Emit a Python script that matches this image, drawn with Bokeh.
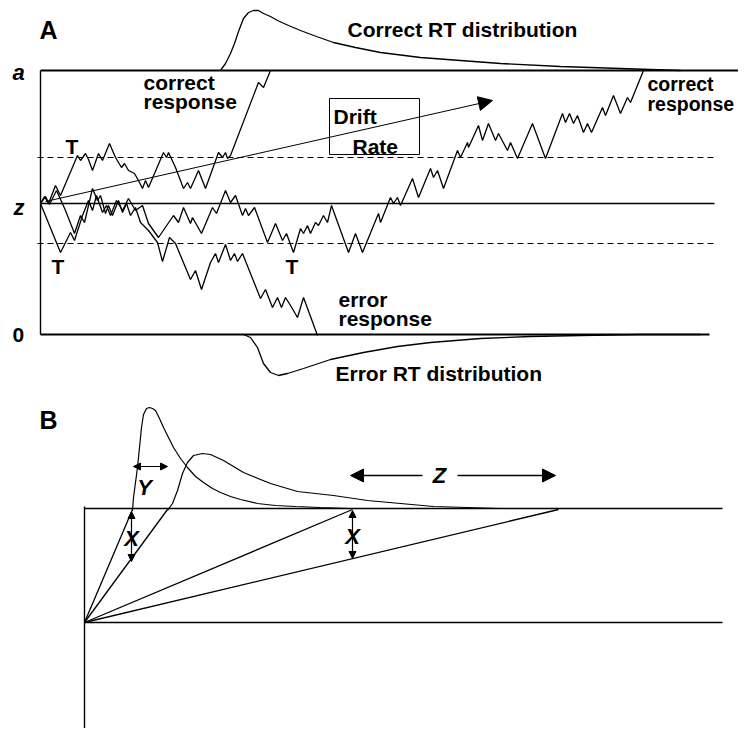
from bokeh.plotting import figure
from bokeh.models import Range1d, ColumnDataSource, Arrow, NormalHead
from bokeh.core.properties import value
from bokeh.embed import file_html
from bokeh.resources import INLINE

# ---------------- data (diagram units = picture pixels) ----------------
# Panel A: boundaries
bound_a_top = 70
bound_z = 203
bound_zero = 334
crit_upper = 157
crit_lower = 243
panel_a_left = 40

# Random walks (panel A)
walk_fast_x = [40, 44, 48, 55, 60, 77, 80, 85, 88, 92, 98, 102, 109, 115, 121, 124, 128, 134, 138, 142, 145, 148,
               163, 166, 168, 175, 183, 187, 190, 198, 205, 218, 222, 225, 227, 230, 258, 263, 270]
walk_fast_y = [203, 196, 203, 185, 195, 155, 160, 153, 159, 170, 153, 160, 143, 157, 167, 163, 170, 173, 180, 188, 180, 187,
               152, 157, 152, 167, 188, 182, 188, 170, 188, 152, 157, 152, 158, 155, 82, 87, 70]

walk_error_x = [40, 45, 49, 56, 65, 74, 80, 84, 92, 97, 100, 105, 108, 112, 118, 122, 126, 130, 135, 140, 148, 157,
                162, 169, 175, 190, 195, 201, 210, 215, 218, 225, 230, 234, 237, 242, 260, 265, 272, 277, 281, 285,
                290, 297, 303, 317]
walk_error_y = [203, 196, 204, 190, 210, 233, 215, 222, 188, 200, 195, 213, 205, 215, 200, 212, 203, 215, 207, 222, 230, 242,
                261, 237, 243, 279, 270, 289, 262, 253, 262, 244, 260, 253, 261, 253, 298, 289, 307, 297, 307, 297,
                305, 317, 297, 335]

walk_slow_x = [40, 60, 70, 74, 82, 88, 92, 96, 102, 106, 110, 116, 122, 128, 135, 142, 148, 158, 173, 178, 183, 190,
               192, 201, 212, 216, 225, 230, 235, 242, 245, 248, 254, 267, 275, 282, 286, 293, 300, 303, 307, 310,
               315, 318, 323, 327, 331, 348, 355, 362, 378, 380, 390, 393, 397, 400, 412, 418, 430, 433, 437, 443,
               457, 460, 467, 468, 478, 482, 488, 495, 498, 507, 510, 517, 532, 545, 562, 565, 569, 573, 577, 583,
               587, 591, 602, 605, 613, 620, 627, 630, 643]
walk_slow_y = [203, 252, 232, 240, 215, 200, 210, 195, 212, 205, 215, 200, 210, 198, 210, 205, 223, 237, 215, 222, 207, 223,
               217, 233, 207, 213, 190, 202, 195, 215, 208, 215, 207, 242, 223, 240, 233, 252, 228, 233, 225, 233,
               222, 225, 215, 222, 205, 252, 233, 252, 213, 222, 197, 203, 197, 205, 178, 197, 168, 177, 170, 188,
               150, 157, 142, 147, 125, 140, 123, 140, 133, 150, 142, 158, 123, 158, 113, 122, 113, 123, 115, 132,
               123, 132, 107, 115, 95, 113, 97, 102, 70]

# RT distributions (panel A)
correct_rt_x = [220, 225, 230, 234, 238, 243, 248, 253, 258, 263, 270, 277, 288, 300, 316, 333, 355, 380, 420, 460,
                500, 560, 620, 680]
correct_rt_y = [70, 63, 53, 43, 31, 18, 12, 10, 10, 13, 16, 20, 25, 30, 36, 42, 47, 52, 57, 60, 63, 66, 68, 70]
error_rt_x = [243, 250, 257, 263, 270, 278, 287, 303, 330, 363, 397, 430, 480, 530, 580, 640, 700]
error_rt_y = [334, 337, 347, 363, 372, 375, 373, 368, 359, 352, 346, 342, 338, 336, 335, 334, 334]

# Drift rate arrow and box
drift_start = (45, 201)
drift_end = (492, 100)
drift_box = (329, 98, 419, 154)  # left, top, right, bottom

# Panel B
b_left = 84
b_top = 508
b_mid = 622
b_bottom = 735
b_right = 722
fan_end_x = [132, 167, 352, 558]
fast_rt_x = [132, 133, 135, 137, 139, 141, 143, 146, 149, 152, 155, 159, 163, 168, 173, 180, 187, 195, 203, 212, 220,
             230, 240, 257, 275, 295, 320, 350, 380]
fast_rt_y = [510, 497, 482, 467, 447, 427, 414, 408, 407, 408, 410, 418, 427, 437, 447, 458, 467, 476, 482, 488, 492,
             496, 499, 503, 505, 506, 507, 508, 508]
slow_rt_x = [167, 172, 177, 182, 187, 193, 202, 210, 223, 243, 270, 297, 333, 367, 400, 433, 467, 500, 540]
slow_rt_y = [510, 503, 490, 473, 462, 455, 453, 454, 460, 472, 483, 491, 495, 500, 503, 506, 507, 508, 508]

# Labels
bold_text = ["Correct RT distribution", "correct", "response", "Drift", "Rate", "T", "T", "T",
             "error", "response", "Error RT distribution", "0"]
bold_x = [347, 143, 143, 333, 352, 65, 51, 285, 338, 338, 335, 12]
bold_y = [29, 82, 101, 116, 146, 146, 266, 266, 299, 318, 373, 334]
right_text = ["correct", "response"]
right_x = [647, 647]
right_y = [83, 103]
panel_text = ["A", "B"]
panel_x = [39, 39]
panel_y = [29, 419]
italic_text = ["a", "z", "X", "X", "Y", "Z"]
italic_x = [12, 13, 131, 352, 144, 439]
italic_y = [72, 207, 538, 536, 487, 475]
italic_align = ["left", "left", "center", "center", "center", "center"]

# ---------------- figure ----------------
W, H = 738, 728
p = figure(width=W, height=H, x_range=Range1d(0, W), y_range=Range1d(H, 0),
           output_backend="svg", toolbar_location=None, x_axis_type=None, y_axis_type=None,
           min_border=0, background_fill_color="white", border_fill_color="white")
p.grid.visible = False
p.outline_line_color = None

K = "black"
FONT = value("Liberation Sans")

# Panel A frame
p.line([panel_a_left, panel_a_left], [bound_a_top, bound_zero], line_color=K, line_width=1.4)
p.line([panel_a_left, 738], [bound_a_top, bound_a_top], line_color=K, line_width=1.8)
p.line([panel_a_left, 714], [bound_z, bound_z], line_color=K, line_width=1.4)
p.line([panel_a_left, 709], [bound_zero, bound_zero], line_color=K, line_width=1.8)
p.line([37, 714], [crit_upper, crit_upper], line_color=K, line_width=1.2, line_dash="6 4")
p.line([37, 714], [crit_lower, crit_lower], line_color=K, line_width=1.2, line_dash="6 4")

# walks
for wx, wy in [(walk_fast_x, walk_fast_y), (walk_error_x, walk_error_y), (walk_slow_x, walk_slow_y)]:
    p.line(wx, wy, line_color=K, line_width=1.3)

# distributions
p.line(correct_rt_x, correct_rt_y, line_color=K, line_width=1.3)
p.line(error_rt_x, error_rt_y, line_color=K, line_width=1.3)

# drift box and arrow
bl, bt, br, bb = drift_box
p.line([bl, br, br, bl, bl], [bt, bt, bb, bb, bt], line_color=K, line_width=1.0)
p.add_layout(Arrow(end=NormalHead(size=14, fill_color=K, line_color=K, line_width=1),
                   x_start=drift_start[0], y_start=drift_start[1], x_end=drift_end[0], y_end=drift_end[1],
                   line_color=K, line_width=1.0))

# Panel B frame
p.line([b_left, b_left], [b_top - 2, b_bottom], line_color=K, line_width=1.4)
p.line([b_left, b_right], [b_top, b_top], line_color=K, line_width=1.4)
p.line([b_left, b_right], [b_mid, b_mid], line_color=K, line_width=1.4)
for fx in fan_end_x:
    p.line([b_left, fx], [b_mid, b_top + 1], line_color=K, line_width=1.3)
p.line(fast_rt_x, fast_rt_y, line_color=K, line_width=1.2)
p.line(slow_rt_x, slow_rt_y, line_color=K, line_width=1.2)


def dbl_arrow(x0, y0, x1, y1, size, lw=1.2):
    p.add_layout(Arrow(start=NormalHead(size=size, fill_color=K, line_color=K, line_width=1),
                       end=NormalHead(size=size, fill_color=K, line_color=K, line_width=1),
                       x_start=x0, y_start=y0, x_end=x1, y_end=y1, line_color=K, line_width=lw))


dbl_arrow(131, 511, 131, 561, 7)
dbl_arrow(352, 510, 352, 558, 7)
dbl_arrow(133, 466, 167, 466, 7)
p.add_layout(Arrow(end=NormalHead(size=13, fill_color=K, line_color=K, line_width=1),
                   x_start=422, y_start=475, x_end=350, y_end=475, line_color=K, line_width=1.5))
p.add_layout(Arrow(end=NormalHead(size=13, fill_color=K, line_color=K, line_width=1),
                   x_start=457, y_start=475, x_end=555, y_end=475, line_color=K, line_width=1.5))

# Text
p.text(x=bold_x, y=bold_y, text=bold_text, text_font=FONT, text_font_style="bold",
       text_font_size="21px", text_baseline="middle", text_align="left", text_color=K)
p.text(x=right_x, y=right_y, text=right_text, text_font=FONT, text_font_style="bold",
       text_font_size="19.5px", text_baseline="middle", text_align="left", text_color=K)
p.text(x=panel_x, y=panel_y, text=panel_text, text_font=FONT, text_font_style="bold",
       text_font_size="25px", text_baseline="middle", text_align="left", text_color=K)
src_it = ColumnDataSource(dict(x=italic_x, y=italic_y, t=italic_text, a=italic_align))
p.text(x="x", y="y", text="t", text_align="a", source=src_it, text_font=FONT,
       text_font_style="bold italic", text_font_size="22px", text_baseline="middle", text_color=K)

open("out.html", "w").write(file_html(p, INLINE))
